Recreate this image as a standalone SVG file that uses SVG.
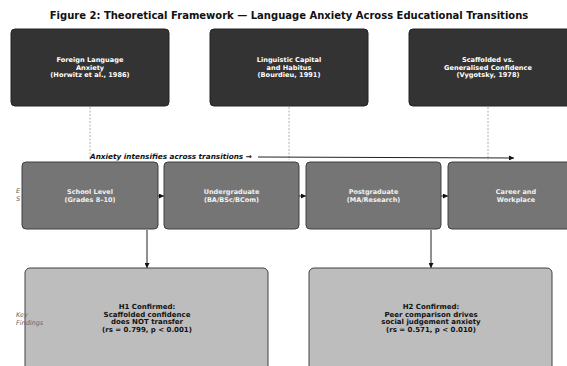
<svg xmlns="http://www.w3.org/2000/svg" width="567" height="366" viewBox="0 0 567 366">
<defs>
<style>
.t{font-family:"DejaVu Sans",sans-serif;font-weight:bold;text-anchor:middle}
.top rect{fill:#333333;stroke:#222222;stroke-width:1}
.top text{fill:#ffffff;font-size:6.6px}
.stg rect{fill:#757575;stroke:#404040;stroke-width:1}
.stg text{fill:#f2f2f2;font-size:6.5px}
.bot rect{fill:#bdbdbd;stroke:#404040;stroke-width:1}
.bot text{fill:#111111;font-size:7px}
.side{font-family:"DejaVu Sans",sans-serif;font-style:italic;font-size:6.5px;fill:#666666}
.dot{stroke:#b0b0b0;stroke-width:1;stroke-dasharray:2,1.5;fill:none}
.con{stroke:#222222;stroke-width:1;fill:none}
</style>
<marker id="ah" viewBox="0 0 6 6" refX="6" refY="3" markerWidth="5" markerHeight="5" orient="auto" markerUnits="userSpaceOnUse">
<path d="M0,0 L6,3 L0,6 z" fill="#111111"/>
</marker>
</defs>
<rect width="567" height="366" fill="#ffffff"/>
<text x="289" y="19" class="t" style="font-size:10px;fill:#111111">Figure 2: Theoretical Framework — Language Anxiety Across Educational Transitions</text>

<text class="side" x="16" y="193">E</text>
<text class="side" x="16" y="201">S</text>

<g id="connectors">
<line class="dot" x1="90" y1="107" x2="90" y2="160"/>
<line class="dot" x1="289" y1="107" x2="289" y2="160"/>
<line class="dot" x1="488" y1="107" x2="488" y2="160"/>
<line class="con" x1="258" y1="157" x2="514" y2="158" marker-end="url(#ah)"/>
<line class="con" x1="158" y1="196" x2="164" y2="196" marker-end="url(#ah)"/>
<line class="con" x1="299" y1="196" x2="306" y2="196" marker-end="url(#ah)"/>
<line class="con" x1="441" y1="196" x2="448" y2="196" marker-end="url(#ah)"/>
<line class="con" x1="147" y1="230" x2="147" y2="268" marker-end="url(#ah)"/>
<line class="con" x1="431" y1="230" x2="431" y2="268" marker-end="url(#ah)"/>
</g>
<text x="90" y="159" style="font-family:'DejaVu Sans',sans-serif;font-weight:bold;font-style:italic;font-size:7.3px;fill:#111111">Anxiety intensifies across transitions →</text>

<g id="top1" class="top"><rect x="11" y="29" width="158" height="77" rx="4"/>
<text class="t" x="90" y="62">Foreign Language</text><text class="t" x="90" y="69.5">Anxiety</text><text class="t" x="90" y="77">(Horwitz et al., 1986)</text></g>
<g id="top2" class="top"><rect x="210" y="29" width="158" height="77" rx="4"/>
<text class="t" x="289" y="62">Linguistic Capital</text><text class="t" x="289" y="69.5">and Habitus</text><text class="t" x="289" y="77">(Bourdieu, 1991)</text></g>
<g id="top3" class="top"><rect x="409" y="29" width="162" height="77" rx="4"/>
<text class="t" x="488" y="62">Scaffolded vs.</text><text class="t" x="488" y="69.5">Generalised Confidence</text><text class="t" x="488" y="77">(Vygotsky, 1978)</text></g>

<g id="stage1" class="stg"><rect x="22" y="162" width="136" height="67" rx="4"/>
<text class="t" x="90" y="194">School Level</text><text class="t" x="90" y="201.5">(Grades 8–10)</text></g>
<g id="stage2" class="stg"><rect x="164" y="162" width="135" height="67" rx="4"/>
<text class="t" x="231.5" y="194">Undergraduate</text><text class="t" x="231.5" y="201.5">(BA/BSc/BCom)</text></g>
<g id="stage3" class="stg"><rect x="306" y="162" width="135" height="67" rx="4"/>
<text class="t" x="373.5" y="194">Postgraduate</text><text class="t" x="373.5" y="201.5">(MA/Research)</text></g>
<g id="stage4" class="stg"><rect x="448" y="162" width="130" height="67" rx="4"/>
<text class="t" x="516" y="194">Career and</text><text class="t" x="516" y="201.5">Workplace</text></g>

<g id="find1" class="bot"><rect x="25" y="268" width="243" height="110" rx="5"/>
<text class="t" x="147" y="309">H1 Confirmed:</text><text class="t" x="147" y="316.7">Scaffolded confidence</text><text class="t" x="147" y="324.4">does NOT transfer</text><text class="t" x="147" y="332.1">(rs = 0.799, p &lt; 0.001)</text></g>
<g id="find2" class="bot"><rect x="309" y="268" width="243" height="110" rx="5"/>
<text class="t" x="431" y="309">H2 Confirmed:</text><text class="t" x="431" y="316.7">Peer comparison drives</text><text class="t" x="431" y="324.4">social judgement anxiety</text><text class="t" x="431" y="332.1">(rs = 0.571, p &lt; 0.010)</text></g>

<text class="side" x="16" y="317">Key</text>
<text class="side" x="16" y="325">Findings</text>
</svg>
